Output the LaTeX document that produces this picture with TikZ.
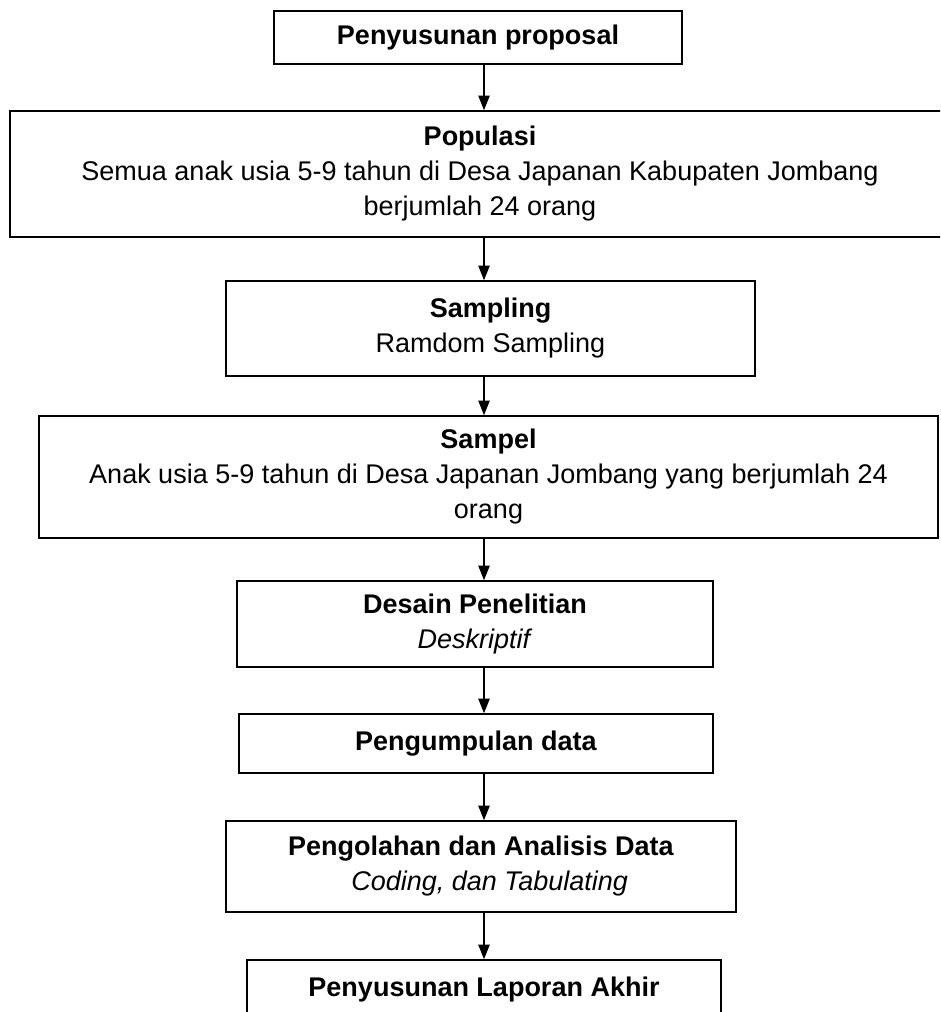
\documentclass[tikz,border=0pt]{standalone}
\usepackage{fontspec}
\setmainfont{Liberation Sans}
\usetikzlibrary{arrows.meta}
\begin{document}
\begin{tikzpicture}[x=0.75pt,y=-0.75pt,
  box/.style={draw, line width=1.1pt, inner sep=0pt, align=center,
    font=\fontsize{20.25pt}{26.25pt}\selectfont},
  arr/.style={line width=1.1pt, -{Triangle[length=11pt,width=8.5pt]}}]
\useasboundingbox (0,0) rectangle (940,1012);
\clip (0,0) rectangle (940,1012);
\fill[white] (0,0) rectangle (940,1012);
\coordinate (ax) at (484,0);
\node[box, minimum width=306pt, minimum height=39.75pt] (b1) at (478,37.5)
  {\textbf{Penyusunan proposal}};
\node[box, minimum width=705pt, minimum height=94.5pt] (b2) at (480,174)
  {\textbf{Populasi}\\Semua anak usia 5-9 tahun di Desa Japanan Kabupaten Jombang\\berjumlah 24 orang};
\node[box, minimum width=396.75pt, minimum height=71.25pt] (b3) at (490.5,328.5)
  {\textbf{Sampling}\\Ramdom Sampling};
\node[box, minimum width=674.25pt, minimum height=91.5pt] (b4) at (488.5,477)
  {\textbf{Sampel}\\Anak usia 5-9 tahun di Desa Japanan Jombang yang berjumlah 24\\orang};
\node[box, minimum width=357pt, minimum height=64.5pt] (b5) at (475,624)
  {\textbf{Desain Penelitian}\\\textit{Deskriptif}};
\node[box, minimum width=355.5pt, minimum height=44.25pt] (b6) at (476,743.5)
  {\textbf{Pengumpulan data}};
\node[box, minimum width=382.5pt, minimum height=68.25pt] (b7) at (481,866.5)
  {\textbf{Pengolahan dan Analisis Data}\\\hspace*{13pt}\textit{Coding, dan Tabulating}};
\node[box, minimum width=355.5pt, minimum height=45pt] (b8) at (484,990)
  {\textbf{Penyusunan Laporan Akhir}};
\draw[arr] (b1.south -| ax) -- (b2.north -| ax);
\draw[arr] (b2.south -| ax) -- (b3.north -| ax);
\draw[arr] (b3.south -| ax) -- (b4.north -| ax);
\draw[arr] (b4.south -| ax) -- (b5.north -| ax);
\draw[arr] (b5.south -| ax) -- (b6.north -| ax);
\draw[arr] (b6.south -| ax) -- (b7.north -| ax);
\draw[arr] (b7.south -| ax) -- (b8.north -| ax);
\end{tikzpicture}
\end{document}
